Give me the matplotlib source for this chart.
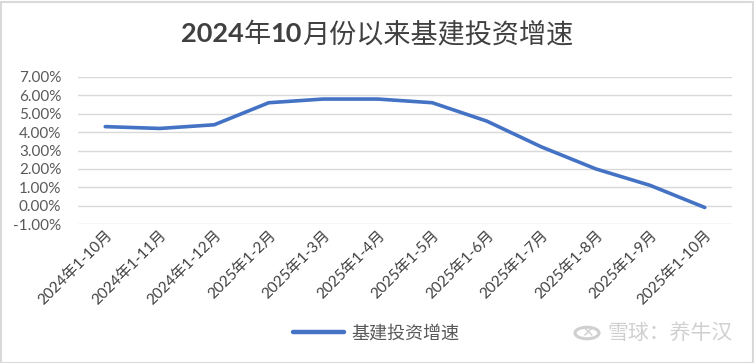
import matplotlib
matplotlib.use("Agg")
import matplotlib.pyplot as plt
from matplotlib.patches import Rectangle, Circle
from matplotlib.ticker import FuncFormatter, MultipleLocator

plt.rcParams['font.family'] = ['Lato', 'Noto Sans CJK SC', 'DejaVu Sans']

categories = ["2024年1-10月", "2024年1-11月", "2024年1-12月", "2025年1-2月",
              "2025年1-3月", "2025年1-4月", "2025年1-5月", "2025年1-6月",
              "2025年1-7月", "2025年1-8月", "2025年1-9月", "2025年1-10月"]
growth = [4.3, 4.2, 4.4, 5.6, 5.8, 5.8, 5.6, 4.6, 3.2, 2.0, 1.1, -0.1]
series_name = "基建投资增速"
title_parts = [("2024", "bold"), ("年", "normal"), ("10", "bold"),
               ("月份以来基建投资增速", "normal")]
watermark = "雪球：养牛汉"

W, H = 754, 363
fig = plt.figure(figsize=(W / 100, H / 100), dpi=100)
ax = fig.add_axes([78 / W, 1 - 224 / H, (732 - 78) / W, (224 - 77) / H])

x = list(range(len(categories)))
ax.plot(x, growth, color='#4472C4', linewidth=2.6, solid_capstyle='round',
        label=series_name, zorder=3)

ax.set_xlim(-0.5, len(categories) - 0.5)
ax.set_ylim(-1, 7)
ax.yaxis.set_major_locator(MultipleLocator(1))
ax.yaxis.set_major_formatter(FuncFormatter(lambda v, p: f"{v:.2f}%"))
ax.grid(axis='y', color='#D9D9D9', linewidth=1.0)
ax.set_axisbelow(True)
for s in ax.spines.values():
    s.set_visible(False)
ax.tick_params(axis='both', length=0, colors='#595959', labelsize=11)
ax.tick_params(axis='y', pad=12)
ax.set_xticks(x)
ax.set_xticklabels(categories, rotation=45, ha='right', va='top',
                   rotation_mode='anchor', color='#404040', fontsize=11)
ax.tick_params(axis='x', pad=3)

# title composed of bold digits and regular Chinese characters
fig.canvas.draw()
renderer = fig.canvas.get_renderer()
texts = []
for s, w in title_parts:
    t = fig.text(0, 1 - 34 / H, s, ha='left', va='center', fontsize=19.5,
                 fontweight=w, color='#404040')
    texts.append(t)
widths = [t.get_window_extent(renderer).width for t in texts]
total = sum(widths)
xpos = 377 - total / 2
for t, w in zip(texts, widths):
    t.set_x(xpos / W)
    xpos += w

leg = fig.legend(loc='center', bbox_to_anchor=(376 / W, 1 - 333 / H),
                 frameon=False, fontsize=13, handlelength=2.8,
                 handletextpad=0.4, labelcolor='#595959')
for h in leg.get_lines():
    h.set_linewidth(3.2)

fig.patches.append(Circle((587 / W, 1 - 333 / H), 12 / W, transform=fig.transFigure,
                          fill=False, edgecolor='#D0D0D0', linewidth=2.2))
fig.text(587 / W, 1 - 333 / H, "✕", ha='center', va='center', fontsize=11,
         color='#D0D0D0', family='DejaVu Sans')
fig.text(733 / W, 1 - 333 / H, watermark, ha='right', va='center',
         fontsize=15, color='#D0D0D0')

fig.patches.append(Rectangle((0.5 / W, 0.5 / H), 1 - 2 / W, 1 - 2 / H,
                             transform=fig.transFigure, fill=False,
                             edgecolor='#D9D9D9', linewidth=1.5))

fig.savefig("out.png", dpi=100)
